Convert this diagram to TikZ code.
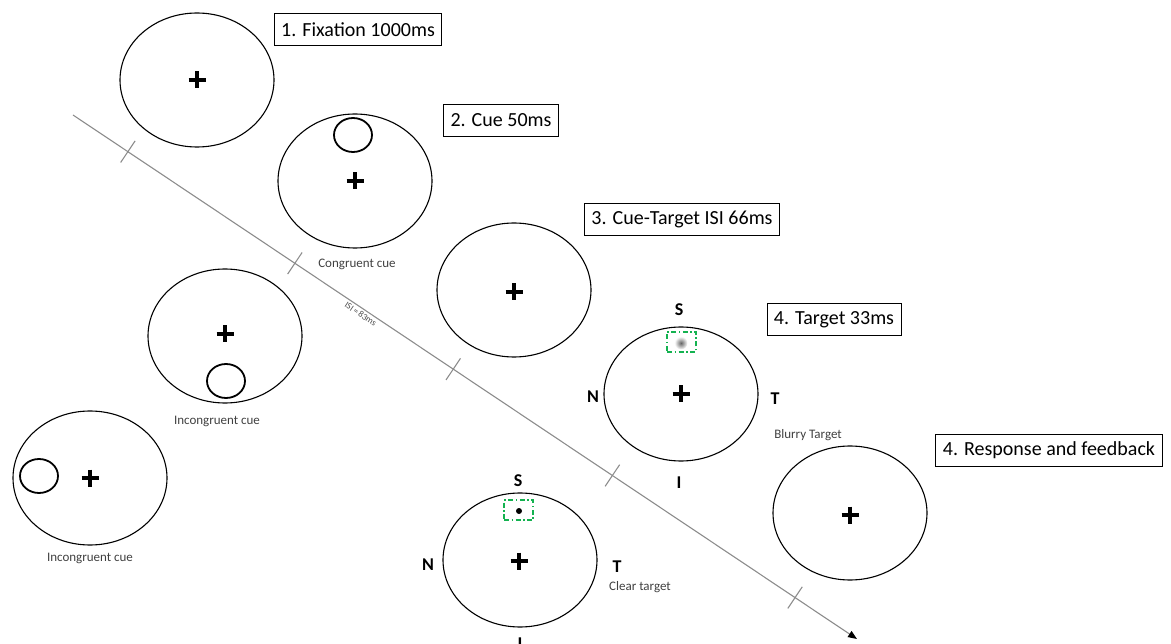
\documentclass[tikz,border=0pt]{standalone}
\usepackage{fontspec}
\setmainfont{Carlito}
\usetikzlibrary{shapes.geometric,arrows.meta,calc}
\definecolor{targetgreen}{RGB}{20,178,80}
\tikzset{
  screen/.style={draw, ellipse, line width=1.1pt, minimum width=154pt, minimum height=134pt, inner sep=0pt},
  cuering/.style={draw, ellipse, line width=1.8pt, minimum width=38pt, minimum height=34pt, inner sep=0pt},
  phase/.style={draw, line width=0.9pt, inner xsep=7pt, minimum height=32pt, font=\fontsize{20}{23}\selectfont},
  note/.style={text=black!75, font=\fontsize{13}{15}\selectfont},
  side/.style={font=\bfseries\fontsize{18}{20}\selectfont},
  targetbox/.style={draw=targetgreen, line width=1.4pt, dash pattern=on 5pt off 2.5pt on 1.5pt off 2.5pt, minimum width=29pt, minimum height=20pt, inner sep=0pt},
  timeline/.style={draw=black!45, line width=1.1pt},
  tickmark/.style={draw=black!45, line width=1.1pt},
  fixcross/.pic={\draw[line width=3.8pt] (-8.5,0) -- (8.5,0) (0,-8.5) -- (0,8.5);}
}
\begin{document}
\begin{tikzpicture}[x=1pt, y=-1pt]
\clip (0,0) rectangle (1171,644);
% time axis
\coordinate (t0) at (73,115);
\coordinate (t1) at (857,639);
\draw[timeline, -{Triangle[length=9pt,width=7pt,black]}] (t0) -- node[pos=.371, sloped, below, inner sep=2pt, font=\fontsize{9}{10}\selectfont, text=black!70] {ISI\,=\,83ms} (t1);
\foreach \p in {0.070,0.283,0.485,0.688,0.921}
  \draw[tickmark] ($(t0)!\p!(t1)!13pt!90:(t1)$) -- ($(t0)!\p!(t1)!13pt!-90:(t1)$);
% 1. fixation
\node[screen] (fix) at (197,80) {};
\pic at (fix) {fixcross};
\node[phase] (fixlabel) at (358,29.5) {1. Fixation 1000ms};
% 2. cue
\node[screen] (cue) at (355,181) {};
\node[cuering] (cuering) at (353,135) {};
\pic at (cue) {fixcross};
\node[phase] (cuelabel) at (501,120) {2. Cue 50ms};
\node[note] (congruent) at (357,264) {Congruent cue};
% incongruent cues
\node[screen] (incong) at (225,336) {};
\node[cuering] (incongring) at (226,381) {};
\pic at (225,334) {fixcross};
\node[note] (incongnote) at (217,421) {Incongruent cue};
\node[screen] (incongleft) at (90,478) {};
\node[cuering] (incongleftring) at (39,476) {};
\pic at (incongleft) {fixcross};
\node[note] (incongleftnote) at (90,558) {Incongruent cue};
% 3. cue-target ISI
\node[screen] (isi) at (514,290) {};
\pic at (514,292) {fixcross};
\node[phase] (isilabel) at (682,219) {3. Cue-Target ISI 66ms};
% 4. blurry target
\node[screen] (blurry) at (681,394) {};
\pic at (blurry) {fixcross};
\node[targetbox] (blurrybox) at (681.5,342) {};
\node[circle, minimum size=13pt, inner sep=0pt, inner color=black!60, outer color=white] (blurrydot) at (681,343) {};
\node[side] (blurryS) at (679,310) {S};
\node[side] (blurryN) at (593,397) {N};
\node[side] (blurryT) at (775,399) {T};
\node[side] (blurryI) at (679,483) {I};
\node[note] (blurrynote) at (808,435) {Blurry Target};
\node[phase] (targetlabel) at (834,319.5) {4. Target 33ms};
% 4. clear target
\node[screen] (clear) at (520,560) {};
\pic at (519,561) {fixcross};
\node[targetbox] (clearbox) at (518.5,510) {};
\node[circle, fill=black, minimum size=6pt, inner sep=0pt] (cleardot) at (519,511) {};
\node[side] (clearS) at (518,481) {S};
\node[side] (clearN) at (428,565) {N};
\node[side] (clearT) at (617,567) {T};
\node[side] (clearI) at (520,644) {I};
\node[note] (clearnote) at (640,587) {Clear target};
% 5. response
\node[screen] (response) at (850,513) {};
\pic at (850,515) {fixcross};
\node[phase] (responselabel) at (1049,450) {4. Response and feedback};
\end{tikzpicture}
\end{document}
